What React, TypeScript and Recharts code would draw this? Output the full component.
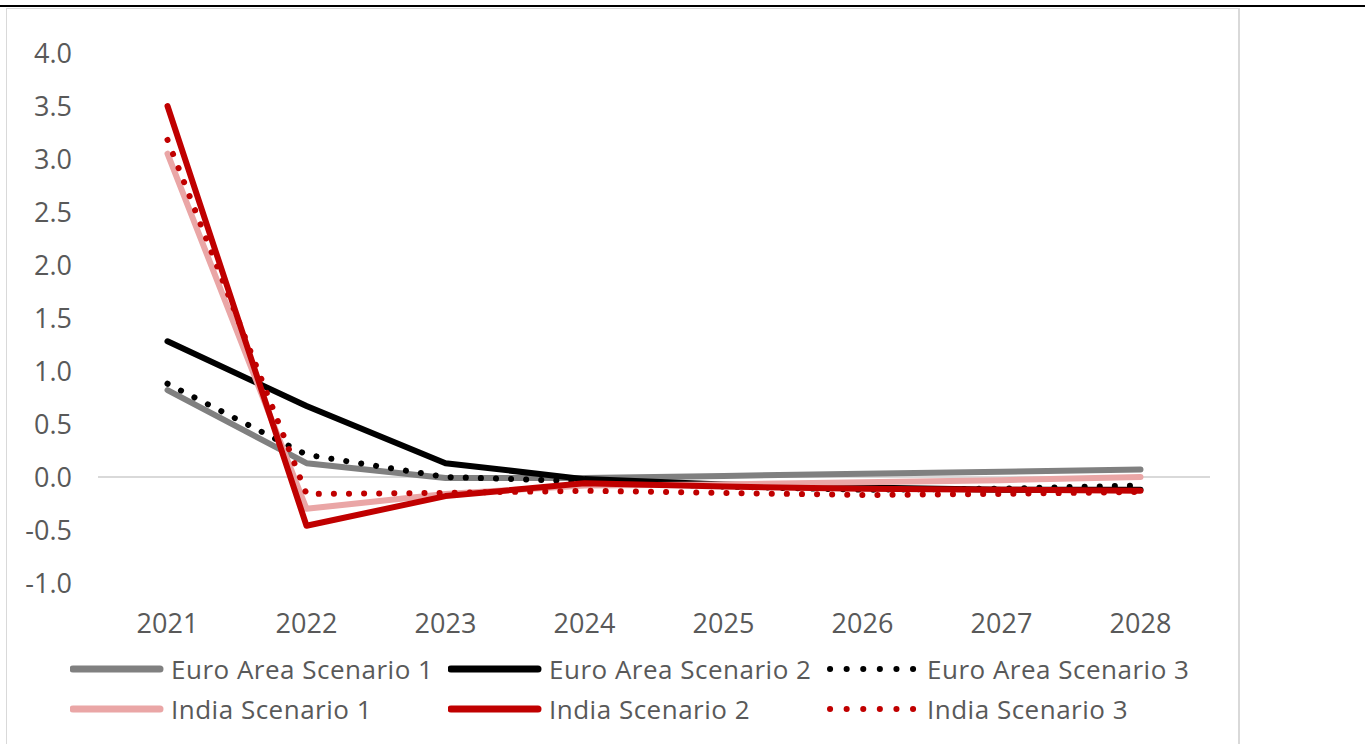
import React from 'react'
import { LineChart, Line, XAxis, YAxis, ReferenceLine } from 'recharts'

const years = ['2021', '2022', '2023', '2024', '2025', '2026', '2027', '2028']
const euroArea1 = [0.82, 0.13, -0.01, -0.01, 0.01, 0.03, 0.05, 0.07]
const euroArea2 = [1.28, 0.67, 0.13, -0.02, -0.07, -0.1, -0.12, -0.12]
const euroArea3 = [0.88, 0.21, 0.0, -0.04, -0.09, -0.12, -0.11, -0.08]
const india1 = [3.05, -0.3, -0.16, -0.08, -0.07, -0.05, -0.03, 0.0]
const india2 = [3.5, -0.46, -0.18, -0.06, -0.09, -0.11, -0.12, -0.13]
const india3 = [3.18, -0.16, -0.15, -0.13, -0.15, -0.17, -0.16, -0.14]
const yTicks = [-1, -0.5, 0, 0.5, 1, 1.5, 2, 2.5, 3, 3.5, 4]

const series = [
  { key: 'ea1', name: 'Euro Area Scenario 1', values: euroArea1, color: '#808080', dotted: false },
  { key: 'ea2', name: 'Euro Area Scenario 2', values: euroArea2, color: '#000000', dotted: false },
  { key: 'ea3', name: 'Euro Area Scenario 3', values: euroArea3, color: '#000000', dotted: true },
  { key: 'in1', name: 'India Scenario 1', values: india1, color: '#eaa6a6', dotted: false },
  { key: 'in2', name: 'India Scenario 2', values: india2, color: '#c00000', dotted: false },
  { key: 'in3', name: 'India Scenario 3', values: india3, color: '#c00000', dotted: true },
]

const data = years.map((year, i) => {
  const row: Record<string, string | number> = { year }
  series.forEach((s) => {
    row[s.key] = s.values[i]
  })
  return row
})

const font = '"Open Sans", Lato, sans-serif'
const textColor = '#595959'

function LegendBox() {
  return (
    <div
      style={{
        position: 'absolute',
        left: 70,
        top: 649,
        display: 'grid',
        gridTemplateColumns: '378px 378px 378px',
        fontFamily: font,
        fontSize: 26,
        letterSpacing: 0.5,
        color: textColor,
      }}
    >
      {series.map((s) => (
        <div key={s.key} style={{ display: 'flex', alignItems: 'center', height: 40, whiteSpace: 'nowrap' }}>
          <svg width={101} height={20} style={{ flex: 'none' }}>
            {s.dotted ? (
              <line
                x1={4}
                y1={10}
                x2={92}
                y2={10}
                stroke={s.color}
                strokeWidth={6}
                strokeLinecap="round"
                strokeDasharray="0.1 16.5"
              />
            ) : (
              <line
                x1={3}
                y1={10}
                x2={90}
                y2={10}
                stroke={s.color}
                strokeWidth={7}
                strokeLinecap="round"
              />
            )}
          </svg>
          <span>{s.name}</span>
        </div>
      ))}
    </div>
  )
}

export default function App() {
  return (
    <div
      style={{
        position: 'absolute',
        left: 0,
        top: 0,
        width: 1365,
        height: 744,
        background: '#fff',
        overflow: 'hidden',
      }}
    >
      <div style={{ position: 'absolute', left: 0, top: 5, width: 1365, height: 2, background: '#000' }} />
      <div
        style={{
          position: 'absolute',
          left: 6,
          top: 8,
          width: 1231,
          height: 800,
          borderLeft: '1px solid #d9d9d9',
          borderRight: '2px solid #d9d9d9',
          borderTop: '1px solid #d9d9d9',
        }}
      />
      <div style={{ position: 'absolute', left: 0, top: 0 }}>
        <LineChart
          width={1240}
          height={650}
          data={data}
          margin={{ top: 53, right: 30, left: 0, bottom: 0 }}
        >
          <XAxis
            dataKey="year"
            height={67}
            padding={{ left: 69.5, right: 69.5 }}
            axisLine={false}
            tickLine={false}
            tickMargin={25}
            tick={{ fill: textColor, fontSize: 27, fontFamily: font }}
          />
          <YAxis
            width={98}
            domain={[-1, 4]}
            ticks={yTicks}
            interval={0}
            axisLine={false}
            tickLine={false}
            tickMargin={20}
            tickFormatter={(v: number) => v.toFixed(1)}
            tick={{ fill: textColor, fontSize: 27, fontFamily: font }}
          />
          <ReferenceLine y={0} stroke="#d9d9d9" strokeWidth={2} />
          {series.map((s) => (
            <Line
              key={s.key}
              dataKey={s.key}
              name={s.name}
              type="linear"
              stroke={s.color}
              strokeWidth={6}
              strokeDasharray={s.dotted ? '0.1 15' : undefined}
              strokeLinecap="round"
              strokeLinejoin="round"
              dot={false}
              activeDot={false}
              isAnimationActive={false}
            />
          ))}
        </LineChart>
      </div>
      <LegendBox />
    </div>
  )
}
